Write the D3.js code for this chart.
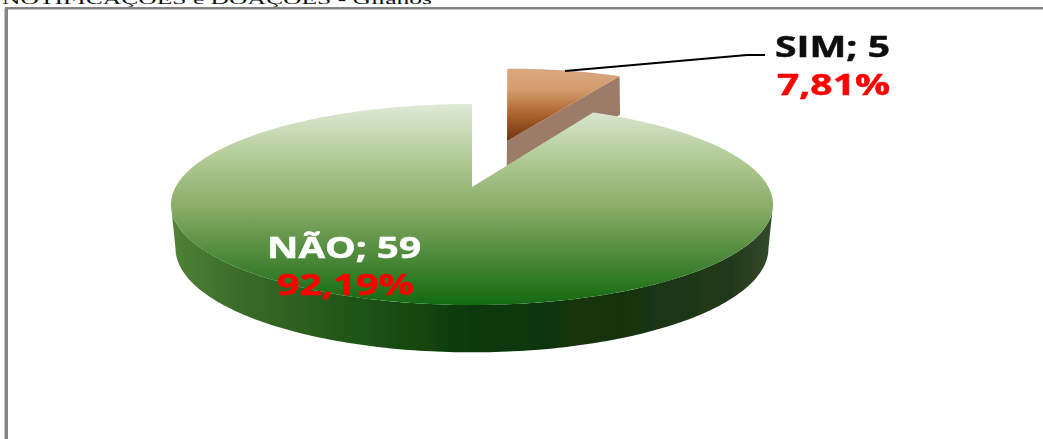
<!DOCTYPE html>
<html>
<head>
<meta charset="utf-8">
<script src="https://cdn.jsdelivr.net/npm/d3@7"></script>
<style>
  html, body { margin: 0; padding: 0; background: #fff; overflow: hidden; }
  svg { display: block; }
</style>
</head>
<body>
<svg id="chart" width="1043" height="439"></svg>
<script>
// chart data
const titleText = "NOTIFICAÇÕES e DOAÇÕES - Gilanos";
const categories = ["SIM", "NÃO"];
const counts = [5, 59];
const percentLabels = ["7,81%", "92,19%"];

const width = 1043, height = 439;
const svg = d3.select("#chart");
const defs = svg.append("defs");

// perspective of the 3D pie: unit circle -> screen
const cx = 472, cy = 187;
const rX = 296.4, rY = 97.5, persp = 0.174;
const explode = 0.53;
const bottomShrink = 0.985; // the bottom rim sits further from the camera

function project(u, v) {
  const w = 1 + persp * v;
  return [cx + rX * u / w, cy - rY * v / w, w];
}
// wall height shrinks with distance
function wallDepth(w) {
  return 43 / Math.sqrt(w);
}

const pie = d3.pie().sort(null).value(d => d);
const arcs = pie(counts);

function rimPoints(a0, a1, off) {
  const n = Math.max(2, Math.ceil(Math.abs(a1 - a0) * 60));
  return d3.range(n + 1).map(i => {
    const t = a0 + (a1 - a0) * i / n;
    return [Math.sin(t) + off[0], Math.cos(t) + off[1]];
  });
}
function toScreen(pts, down) {
  return pts.map(p => {
    const s = project(p[0], p[1]);
    if (!down) return [s[0], s[1]];
    return [cx + (s[0] - cx) * bottomShrink, s[1] + wallDepth(s[2])];
  });
}
const line = d3.line();

// gradients
function gradient(id, x1, y1, x2, y2, stops) {
  const g = defs.append("linearGradient").attr("id", id)
    .attr("gradientUnits", "userSpaceOnUse")
    .attr("x1", x1).attr("y1", y1).attr("x2", x2).attr("y2", y2);
  stops.forEach(s => g.append("stop").attr("offset", s[0]).attr("stop-color", s[1]));
}
gradient("greenTop", 0, 104, 0, 305, [
  [0, "#dfead8"], [0.25, "#b5cd9a"], [0.5, "#8cae6a"], [0.75, "#4f8a3c"], [1, "#136a10"]
]);
gradient("greenWall", 175, 0, 768, 0, [
  [0, "#4f8238"], [0.1, "#3c6c2a"], [0.3, "#1f5516"], [0.5, "#0c390a"], [0.75, "#15330f"], [0.94, "#24391b"], [1, "#33482a"]
]);
gradient("brownTop", 0, 68, 0, 141, [
  [0, "#d8a883"], [0.3, "#d49c6c"], [0.65, "#a9602b"], [1, "#6e3413"]
]);

const blur = defs.append("filter").attr("id", "soft")
  .attr("x", "-5%").attr("y", "-5%").attr("width", "110%").attr("height", "110%");
blur.append("feGaussianBlur").attr("stdDeviation", 0.6);

// frame, runs off the right and bottom of the picture
const frame = svg.append("g");
frame.append("rect").attr("x", 5).attr("y", 7).attr("width", width).attr("height", 2).attr("fill", "#858585");
frame.append("rect").attr("x", 5).attr("y", 9).attr("width", width).attr("height", 1).attr("fill", "#c4c4c4");
frame.append("rect").attr("x", 5).attr("y", 7).attr("width", 3).attr("height", height).attr("fill", "#858585");
frame.append("rect").attr("x", 4).attr("y", 9).attr("width", 1).attr("height", height).attr("fill", "#c4c4c4");

// title is cut off by the top of the picture
svg.append("text")
  .attr("x", 2).attr("y", 4)
  .attr("font-family", "Liberation Serif")
  .attr("font-size", 15)
  .attr("textLength", 430)
  .attr("lengthAdjust", "spacingAndGlyphs")
  .attr("fill", "#111")
  .text(titleText);

const pieG = svg.append("g").attr("filter", "url(#soft)");

// exploded SIM slice, nudged a little right and up as its far edge is in the picture
const sim = arcs[0];
const mid = (sim.startAngle + sim.endAngle) / 2;
const off = [Math.sin(mid) * explode, Math.cos(mid) * explode];
const simRim = rimPoints(sim.startAngle, sim.endAngle, off);
const simApex = [off];
const simG = pieG.append("g");

function simScreen(pts, down) {
  return toScreen(pts, down).map((s, i) => {
    const back = pts[i][1] - off[1];
    return [s[0] + 5 * back + (down ? 3 * back : 0), s[1] - 1.5 * back];
  });
}

// cut face of the slice
const faceTop = [off, simRim[simRim.length - 1]];
simG.append("path")
  .attr("d", line(simScreen(faceTop, false).concat(simScreen(faceTop, true).reverse())) + "Z")
  .attr("fill", "#9c7c69");
simG.append("path")
  .attr("d", line(simScreen(simApex.concat(simRim), false)) + "Z")
  .attr("fill", "url(#brownTop)");

// NÃO slice: wall from widest point to widest point of the rim, then the top face
const nao = arcs[1];
const wallSpread = Math.asin(persp);
const front = rimPoints(Math.PI * 0.5 + wallSpread, Math.PI * 1.5 - wallSpread, [0, 0]);
pieG.append("path")
  .attr("d", line(toScreen(front, false).concat(toScreen(front, true).reverse())) + "Z")
  .attr("fill", "url(#greenWall)");
const naoRim = rimPoints(nao.startAngle, nao.endAngle, [0, 0]);
pieG.append("path")
  .attr("d", line(toScreen([[0, 0]].concat(naoRim), false)) + "Z")
  .attr("fill", "url(#greenTop)");

// leader line of the SIM label
const leader = [[565, 71], [747, 55], [765, 55]];
pieG.append("path").attr("d", line(leader))
  .attr("fill", "none").attr("stroke", "#000").attr("stroke-width", 2.2);

// data labels: x, baseline and width of name line, then of percent line
const labelPos = [
  [832.5, 57, 115, 833.5, 95, 113],
  [344, 258, 154, 345.5, 295, 137]
];
const labels = svg.append("g")
  .attr("font-family", "Open Sans")
  .attr("font-weight", 700)
  .attr("font-size", 29)
  .attr("text-anchor", "middle")
  .attr("stroke-width", 0.5)
  .attr("filter", "url(#soft)");
categories.forEach((c, i) => {
  const p = labelPos[i];
  const nameColor = i === 0 ? "#111" : "#fff";
  labels.append("text")
    .attr("x", p[0]).attr("y", p[1])
    .attr("textLength", p[2]).attr("lengthAdjust", "spacingAndGlyphs")
    .attr("fill", nameColor).attr("stroke", nameColor)
    .text(c + "; " + counts[i]);
  labels.append("text")
    .attr("x", p[3]).attr("y", p[4])
    .attr("textLength", p[5]).attr("lengthAdjust", "spacingAndGlyphs")
    .attr("fill", "#ff0000").attr("stroke", "#ff0000")
    .text(percentLabels[i]);
});
</script>
</body>
</html>
